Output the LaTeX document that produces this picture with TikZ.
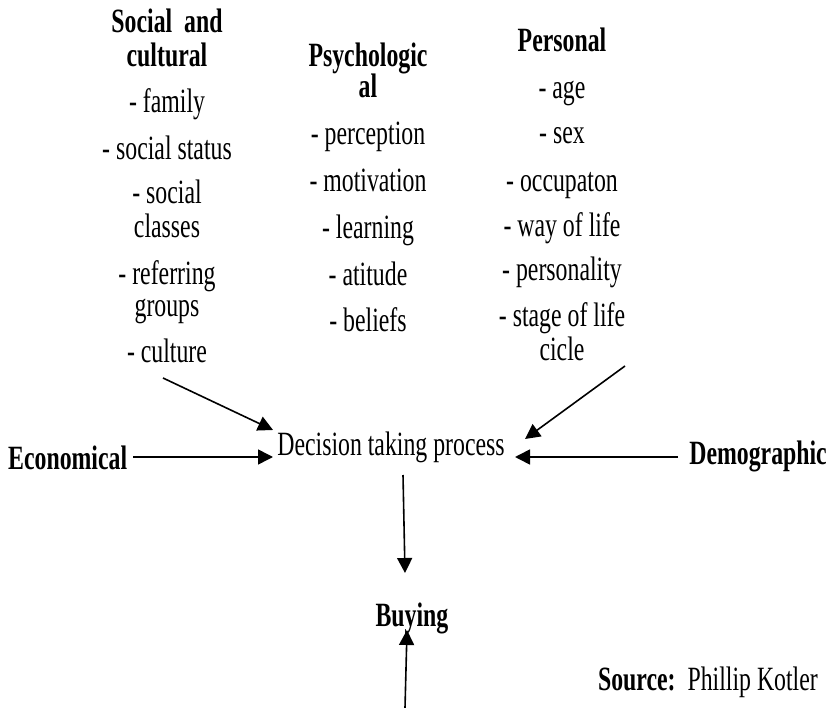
\documentclass[tikz,border=0pt]{standalone}
\usepackage{fontspec}
\setmainfont{Liberation Serif}[FakeStretch=0.7]
\usetikzlibrary{arrows.meta}
\tikzset{
  txt/.style={inner sep=0pt, anchor=base, font=\fontsize{34}{38}\selectfont},
  head/.style={txt, font=\fontsize{34}{38}\selectfont\bfseries},
  arr/.style={line width=1.6pt, -{Triangle[length=15pt,width=15pt]}}
}
\begin{document}
\begin{tikzpicture}[x=1pt, y=-1pt]
\useasboundingbox (0,0) rectangle (830,708);

% Social and cultural factors
\node[head] (sc1) at (167,33) {Social\ \ and};
\node[head] (sc2) at (167,67) {cultural};
\node[txt] (sc3) at (167,113) {- family};
\node[txt] (sc4) at (167,160) {- social status};
\node[txt] (sc5) at (167,204) {- social};
\node[txt] (sc6) at (167,238) {classes};
\node[txt] (sc7) at (167,285) {- referring};
\node[txt] (sc8) at (167,317) {groups};
\node[txt] (sc9) at (167,363) {- culture};

% Psychological factors
\node[head] (ps1) at (368,67) {Psychologic};
\node[head] (ps2) at (368,98) {al};
\node[txt] (ps3) at (368,145) {- perception};
\node[txt] (ps4) at (368,192) {- motivation};
\node[txt] (ps5) at (368,239) {- learning};
\node[txt] (ps6) at (368,286) {- atitude};
\node[txt] (ps7) at (368,332) {- beliefs};

% Personal factors
\node[head] (pe1) at (562,52) {Personal};
\node[txt] (pe2) at (562,99) {- age};
\node[txt] (pe3) at (562,144) {- sex};
\node[txt] (pe4) at (562,192) {- occupaton};
\node[txt] (pe5) at (562,237) {- way of life};
\node[txt] (pe6) at (562,281) {- personality};
\node[txt] (pe7) at (562,327) {- stage of life};
\node[txt] (pe8) at (562,361) {cicle};

% Centre and side factors
\node[txt] (dec) at (391,455) {Decision taking process};
\node[head, anchor=base west] (eco) at (8,469) {Economical};
\node[head, anchor=base east] (dem) at (827,464) {Demographic};
\node[head] (buy) at (412,626) {Buying};
\node[txt, anchor=base east] (src) at (818,690) {\textbf{Source:}\ \ Phillip Kotler};

% Connector end points
\coordinate (scA) at (163,378);
\coordinate (scB) at (273,430);
\coordinate (peA) at (625,366);
\coordinate (peB) at (525,439);
\coordinate (ecoA) at (133,457);
\coordinate (ecoB) at (273,457);
\coordinate (demA) at (678,457);
\coordinate (demB) at (515,457);
\coordinate (decA) at (403,475);
\coordinate (buyA) at (405,573);
\coordinate (botA) at (405,708);
\coordinate (buyB) at (407,630);

\draw[arr] (scA) -- (scB);
\draw[arr] (peA) -- (peB);
\draw[arr] (ecoA) -- (ecoB);
\draw[arr] (demA) -- (demB);
\draw[arr] (decA) -- (buyA);
\draw[arr] (botA) -- (buyB);
\end{tikzpicture}
\end{document}
